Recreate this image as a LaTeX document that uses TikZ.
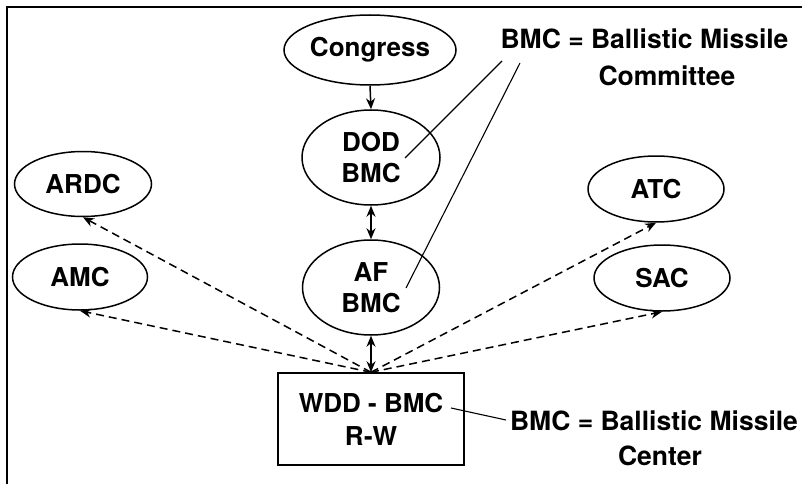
\documentclass[tikz,border=0pt]{standalone}
\usepackage{fontspec}
\setmainfont{TeX Gyre Heros}
\usetikzlibrary{shapes.geometric,arrows.meta}
\begin{document}
\begin{tikzpicture}[x=1pt,y=-1pt,
  every node/.style={font=\fontsize{26}{31}\selectfont\bfseries},
  oval/.style={draw,ellipse,line width=1.5pt,inner sep=0pt,align=center},
  note/.style={inner sep=0pt,text height=19pt,text depth=0pt,font=\fontsize{26.5}{31}\selectfont\bfseries},
  tip/.style={-{Stealth[length=11pt,width=9pt]}},
  solidarr/.style={line width=1.5pt,tip},
  dbl/.style={line width=1.5pt,{Stealth[length=11pt,width=9pt]}-{Stealth[length=11pt,width=9pt]}},
  dasharr/.style={line width=1.5pt,dash pattern=on 8pt off 5pt,tip},
  thinline/.style={line width=1.1pt}]
\useasboundingbox (0,0) rectangle (802,484);
\draw[line width=2pt] (7,484) -- (7,7) -- (802,7);

\node[oval,minimum width=172pt,minimum height=70pt] (congress) at (370,50) {Congress};
\node[oval,minimum width=138pt,minimum height=95pt] (dod) at (371,157.5) {DOD\\BMC};
\node[oval,minimum width=137pt,minimum height=95pt] (af) at (371,287.5) {AF\\BMC};
\node[oval,minimum width=137pt,minimum height=65pt] (ardc) at (83,184) {ARDC};
\node[oval,minimum width=135pt,minimum height=66pt] (amc) at (80,277) {AMC};
\node[oval,minimum width=136pt,minimum height=66pt] (atc) at (656,189) {ATC};
\node[oval,minimum width=136pt,minimum height=66pt] (sac) at (662,278) {SAC};
\node[draw,line width=1.5pt,minimum width=186pt,minimum height=92pt,inner sep=0pt,align=center,
      font=\fontsize{26}{33}\selectfont\bfseries] (wdd) at (371,419) {WDD - BMC\\R-W};

\node[note] (n1a) at (644.5,39) {BMC = Ballistic Missile};
\node[note] (n1b) at (667,76) {Committee};
\node[note] (n2a) at (654,421) {BMC = Ballistic Missile};
\node[note] (n2b) at (660,456) {Center};

\draw[solidarr] (congress.south) -- (dod.north);
\draw[dbl] (dod.south) -- (af.north);
\draw[dbl] (af.south) -- (wdd.north);

\draw[dasharr] (wdd.north) -- (ardc.south);
\draw[dasharr] (wdd.north) -- (amc.south);
\draw[dasharr] (wdd.north) -- (atc.south);
\draw[dasharr] (wdd.north) -- (sac.south);

\coordinate (s1) at (502,61);
\coordinate (e1) at (405,158);
\coordinate (s2) at (520,63);
\coordinate (e2) at (406,288);
\coordinate (s3) at (451,408);
\coordinate (e3) at (506,420);
\draw[thinline] (s1) -- (e1);
\draw[thinline] (s2) -- (e2);
\draw[thinline] (s3) -- (e3);
\end{tikzpicture}
\end{document}
